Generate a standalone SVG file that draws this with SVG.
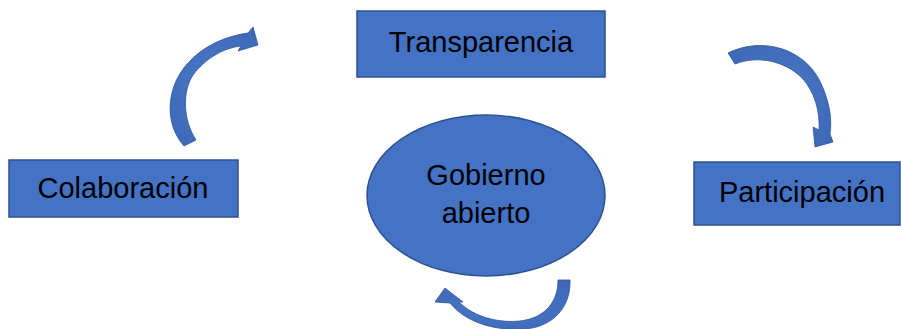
<svg xmlns="http://www.w3.org/2000/svg" width="901" height="329" viewBox="0 0 901 329">
<style>
.box{fill:#4472C4;stroke:#2F528F;stroke-width:1.5}
.lbl{font-family:"Liberation Sans",Arial,sans-serif;font-size:29px;fill:#000;text-anchor:middle}
.arr{fill:url(#g);stroke:#2F5597;stroke-width:0.8}
</style>
<defs>
<radialGradient id="g" cx="50%" cy="50%" r="70%">
<stop offset="0" stop-color="#4A78C8"/>
<stop offset="1" stop-color="#3B67B5"/>
</radialGradient>
</defs>
<rect width="901" height="329" fill="#fff"/>
<g id="transparencia">
<rect class="box" x="357" y="11" width="248" height="66"/>
<text class="lbl" x="481" y="52">Transparencia</text>
</g>
<g id="colaboracion">
<rect class="box" x="9" y="160" width="229" height="57"/>
<text class="lbl" x="123" y="198">Colaboración</text>
</g>
<g id="participacion">
<rect class="box" x="694" y="162" width="206" height="63"/>
<text class="lbl" x="802" y="202">Participación</text>
</g>
<g id="gobierno">
<ellipse class="box" cx="486" cy="195.5" rx="119" ry="80.5"/>
<text class="lbl" x="486" y="185">Gobierno</text>
<text class="lbl" x="486" y="223">abierto</text>
</g>
<g id="connectors">
<path class="arr" d="M 184,146 C 166,126 166,95 181,72 C 196,50 220,37 248,33 L 253,27 L 258,45 L 238,51 L 241,46 C 222,48 204,60 193,75 C 182,92 183,120 196,140 Z"/>
<path class="arr" d="M 728,53 C 762,36 808,48 823,88 C 830,105 832,120 830,134 L 833,142 L 815,147 L 813,127 L 819,130 C 820,112 815,92 802,78 C 785,61 758,55 735,64 Z"/>
<path class="arr" d="M 558,280 L 570,280 C 571,308 552,327 525,329 C 500,331 468,325 450,303 L 435,302 L 445,288 L 463,302 L 459,302 C 475,318 500,323 520,321 C 545,318 558,302 558,280 Z"/>
</g>
</svg>
